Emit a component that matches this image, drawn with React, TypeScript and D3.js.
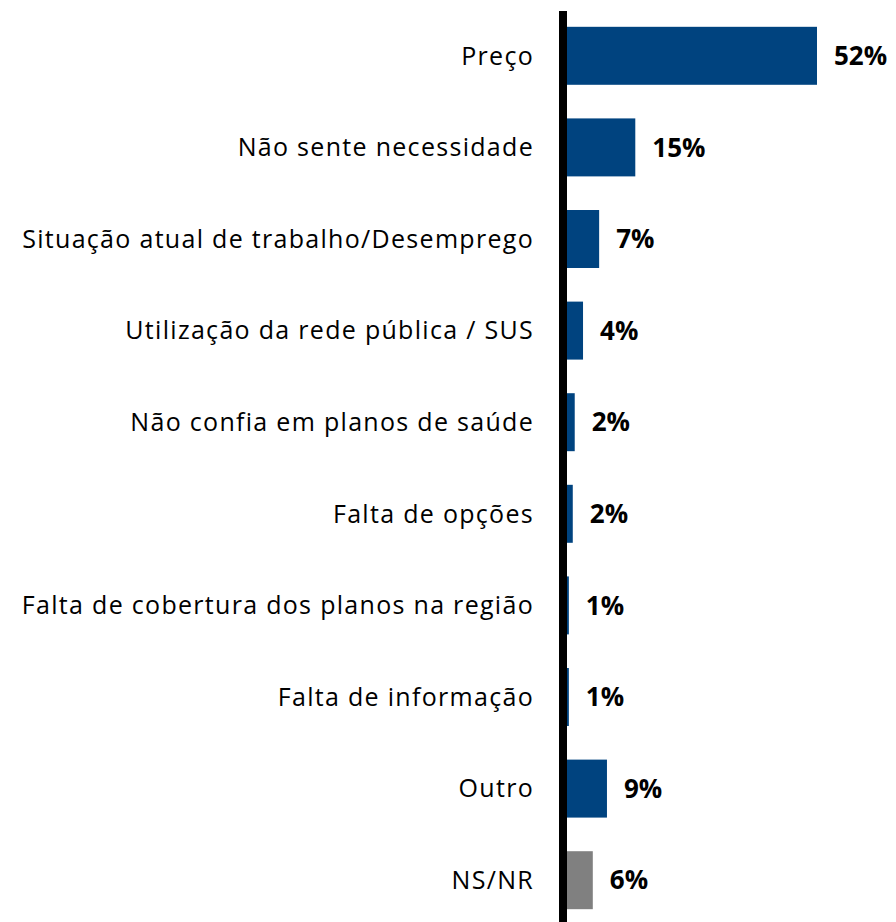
import React from "react";
import * as d3 from "d3";

const categories = [
  "Preço",
  "Não sente necessidade",
  "Situação atual de trabalho/Desemprego",
  "Utilização da rede pública / SUS",
  "Não confia em planos de saúde",
  "Falta de opções",
  "Falta de cobertura dos planos na região",
  "Falta de informação",
  "Outro",
  "NS/NR",
];
const values = [52, 14.8, 7.4, 4.1, 2.4, 2.0, 1.2, 1.2, 9.0, 6.1];
const labels = ["52%", "15%", "7%", "4%", "2%", "2%", "1%", "1%", "9%", "6%"];
const barColors = ["#00437f", "#00437f", "#00437f", "#00437f", "#00437f", "#00437f", "#00437f", "#00437f", "#00437f", "#808080"];

const W = 896;
const H = 922;
const axisX = 563;

export default function App() {
  const x = d3.scaleLinear().domain([0, 52]).range([axisX, 817]);
  const y = d3
    .scaleBand<string>()
    .domain(categories)
    .range([10, 926])
    .paddingInner(0.367)
    .paddingOuter(0.1835);
  const bw = y.bandwidth();
  return (
    <svg
      width={W}
      height={H}
      style={{ position: "absolute", left: 0, top: 0, background: "#fff" }}
    >
      {categories.map((c, i) => {
        const yc = (y(c) as number) + bw / 2;
        return (
          <g key={c}>
            <rect
              x={axisX}
              y={y(c)}
              width={x(values[i]) - axisX}
              height={bw}
              fill={barColors[i]}
            />
            <text
              x={534}
              y={yc}
              dy="0.35em"
              textAnchor="end"
              fontFamily="Open Sans"
              fontSize={25}
              letterSpacing={1.3}
              fill="#000"
            >
              {c}
            </text>
            <text
              x={x(values[i]) + 17}
              y={yc}
              dy="0.35em"
              fontFamily="Open Sans"
              fontWeight="bold"
              fontSize={26}
              fill="#000"
            >
              {labels[i]}
            </text>
          </g>
        );
      })}
      <line x1={axisX} x2={axisX} y1={11} y2={H} stroke="#000" strokeWidth={8} />
    </svg>
  );
}
